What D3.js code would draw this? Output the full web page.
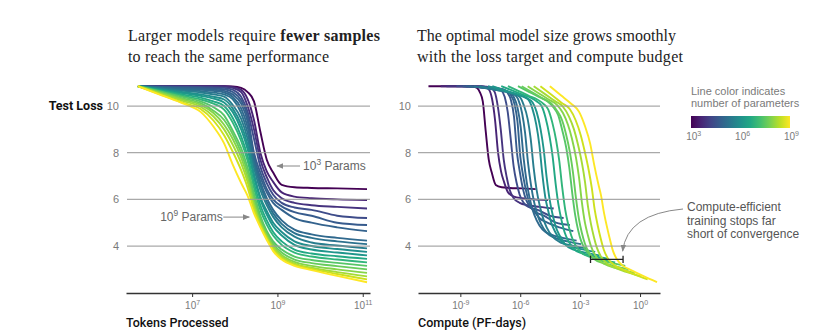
<!DOCTYPE html>
<html>
<head>
<meta charset="utf-8">
<script src="https://cdn.jsdelivr.net/npm/d3@7"></script>
<style>
  body { margin: 0; background: #fff; }
  svg { display: block; font-family: "Liberation Sans", Arial, sans-serif; }
</style>
</head>
<body>
<svg id="chart" width="839" height="334"></svg>
<script>
// tokens processed at each sampled point (shared by every run)
var tokens = [5.37e5, 2.0e6, 6.31e6, 1.58e7, 3.16e7, 5.62e7, 8.91e7, 1.41e8, 2.0e8,
              2.82e8, 3.98e8, 5.62e8, 7.94e8, 1.26e9, 2.51e9, 6.31e9, 2.51e10, 1.26e11];

// non-embedding parameters of each run, smallest first
var params = [680, 2.8e3, 5.4e3, 1.7e4, 3.5e4, 5.2e4, 7.6e4, 1.26e5, 2.4e5, 6.5e5,
              1.07e6, 3.0e6, 6.5e6, 2.07e7, 3.16e7, 6.3e7, 1.26e8, 2.75e8, 8.1e8];

// test loss of each run at the sampled token counts
var lossCurves = [
  [10.85, 10.85, 10.85, 10.85, 10.85, 10.85, 10.84, 10.78, 10.6, 10.2, 8.9, 7.7, 7.15, 6.62, 6.52, 6.49, 6.47, 6.44],
  [10.85, 10.85, 10.85, 10.85, 10.85, 10.85, 10.82, 10.7, 10.3, 9.4, 8.0, 7.2, 6.75, 6.3, 6.12, 6.05, 6.0, 5.97],
  [10.85, 10.85, 10.84, 10.84, 10.84, 10.83, 10.78, 10.6, 10.0, 9.0, 7.7, 6.95, 6.4, 6.05, 5.85, 5.75, 5.68, 5.61],
  [10.85, 10.84, 10.83, 10.82, 10.8, 10.78, 10.7, 10.4, 9.75, 8.6, 7.4, 6.7, 6.2, 5.85, 5.65, 5.55, 5.3, 5.2],
  [10.85, 10.82, 10.8, 10.78, 10.75, 10.72, 10.6, 10.25, 9.55, 8.0, 7.15, 6.45, 6.0, 5.7, 5.45, 5.3, 5.0, 4.9],
  [10.85, 10.81, 10.77, 10.74, 10.7, 10.65, 10.5, 10.1, 9.35, 7.8, 6.95, 6.3, 5.85, 5.55, 5.2, 5.0, 4.8, 4.64],
  [10.85, 10.79, 10.74, 10.7, 10.65, 10.58, 10.4, 9.9, 9.1, 7.75, 6.75, 6.05, 5.55, 5.1, 4.7, 4.5, 4.35, 4.23],
  [10.85, 10.77, 10.7, 10.64, 10.58, 10.5, 10.3, 9.7, 8.85, 7.55, 6.6, 5.9, 5.4, 4.95, 4.55, 4.35, 4.2, 4.08],
  [10.85, 10.74, 10.65, 10.58, 10.5, 10.4, 10.05, 9.45, 8.6, 7.35, 6.4, 5.75, 5.25, 4.8, 4.4, 4.15, 4.02, 3.9],
  [10.85, 10.71, 10.59, 10.5, 10.4, 10.28, 9.9, 9.2, 8.35, 7.1, 6.1, 5.5, 5.0, 4.6, 4.2, 4.0, 3.87, 3.75],
  [10.85, 10.69, 10.55, 10.44, 10.32, 10.15, 9.75, 9.0, 8.15, 6.95, 6.0, 5.35, 4.85, 4.45, 4.05, 3.85, 3.72, 3.6],
  [10.85, 10.66, 10.49, 10.36, 10.2, 10.0, 9.5, 8.7, 7.85, 6.7, 5.75, 5.1, 4.6, 4.2, 3.85, 3.68, 3.56, 3.45],
  [10.85, 10.63, 10.43, 10.28, 10.1, 9.85, 9.3, 8.5, 7.65, 6.5, 5.55, 4.92, 4.45, 4.05, 3.72, 3.55, 3.42, 3.3],
  [10.85, 10.6, 10.38, 10.2, 9.95, 9.6, 8.95, 8.2, 7.35, 6.25, 5.3, 4.65, 4.2, 3.85, 3.55, 3.4, 3.28, 3.15],
  [10.85, 10.57, 10.32, 10.12, 9.8, 9.4, 8.8, 8.0, 7.15, 6.05, 5.15, 4.55, 4.1, 3.72, 3.42, 3.27, 3.14, 3.0],
  [10.85, 10.54, 10.27, 10.05, 9.7, 9.2, 8.6, 7.8, 6.95, 5.85, 5.0, 4.45, 4.0, 3.62, 3.32, 3.15, 3.0, 2.85],
  [10.85, 10.51, 10.21, 9.97, 9.55, 9.0, 8.35, 7.55, 6.75, 5.7, 4.95, 4.38, 3.92, 3.55, 3.25, 3.07, 2.88, 2.7],
  [10.85, 10.47, 10.13, 9.87, 9.38, 8.75, 8.05, 7.25, 6.5, 5.55, 4.88, 4.32, 3.85, 3.48, 3.2, 3.02, 2.8, 2.57],
  [10.85, 10.45, 10.1, 9.75, 9.12, 8.4, 7.5, 6.7, 6.15, 5.4, 4.8, 4.26, 3.78, 3.42, 3.15, 2.97, 2.72, 2.45]
];

var lossTicks = [4, 6, 8, 10];
var tokenTicks = [1e7, 1e9, 1e11];
var computeTicks = [1e-9, 1e-6, 1e-3, 1];
var legendTicks = [1e3, 1e6, 1e9];

// training compute: 6 FLOPs per parameter per token, 1 PF-day = 8.64e19 FLOPs
var FLOPS_PER_PARAM_TOKEN = 6;
var FLOPS_PER_PF_DAY = 8.64e19;

var svg = d3.select('#chart');
var grey = '#7a7a7a';

// scales
var yLoss = d3.scaleLinear().domain([2, 11]).range([292.7, 82.7]);
var xTokens = d3.scaleLog().domain([Math.pow(10, 5.45), Math.pow(10, 11.17)]).range([126, 370]);
var xCompute = d3.scaleLog().domain([Math.pow(10, -11.12), 10]).range([418, 660]);
var color = d3.scaleSequentialLog(d3.interpolateViridis).domain(d3.extent(params));

var runs = params.map(function (n, i) {
    return {
        n: n,
        pts: tokens.map(function (t, j) { return { t: t, c: t * n * FLOPS_PER_PARAM_TOKEN / FLOPS_PER_PF_DAY, loss: lossCurves[i][j] }; })
    };
});

// superscript labels like 10^7
function powLabel(sel, exp, size) {
    sel.text('10');
    sel.append('tspan')
        .attr('dy', -size * 0.4)
        .style('font-size', (size * 0.7) + 'px')
        .text(exp);
}

function drawPanel(xScale, xKey, xTicks, gridX0, labelX, axisTitle) {
    var g = svg.append('g');

    // curves
    var line = d3.line()
        .x(function (d) { return xScale(d[xKey]); })
        .y(function (d) { return yLoss(d.loss); })
        .curve(d3.curveMonotoneX);

    g.selectAll('path.run')
        .data(runs)
        .enter().append('path')
        .attr('class', 'run')
        .attr('fill', 'none')
        .attr('stroke', function (d) { return color(d.n); })
        .attr('stroke-width', 1.9)
        .attr('stroke-linejoin', 'round')
        .attr('d', function (d) { return line(d.pts); });

    // horizontal grid
    g.selectAll('line.grid')
        .data(lossTicks)
        .enter().append('line')
        .attr('x1', gridX0)
        .attr('x2', xScale.range()[1])
        .attr('y1', function (d) { return yLoss(d); })
        .attr('y2', function (d) { return yLoss(d); })
        .attr('stroke', '#9a9a9a')
        .attr('stroke-opacity', 0.85)
        .attr('stroke-width', 1.3);

    g.selectAll('text.ylab')
        .data(lossTicks)
        .enter().append('text')
        .attr('x', labelX)
        .attr('y', function (d) { return yLoss(d) + 4; })
        .attr('text-anchor', 'end')
        .style('font-size', '11px')
        .style('fill', grey)
        .text(function (d) { return d; });

    // bottom axis
    var axis = d3.axisBottom(xScale)
        .tickValues(xTicks)
        .tickSize(4)
        .tickSizeOuter(0)
        .tickFormat('');
    var ax = g.append('g')
        .attr('transform', 'translate(0,293)')
        .call(axis);
    ax.select('.domain').attr('stroke', '#333').attr('stroke-width', 1.6);
    ax.selectAll('.tick line').attr('stroke', '#333');
    ax.selectAll('.tick').append('text')
        .attr('y', 16)
        .attr('text-anchor', 'middle')
        .style('font-size', '10px')
        .style('fill', grey)
        .each(function (d) { powLabel(d3.select(this), Math.round(Math.log10(d)), 10); });

    g.append('text')
        .attr('x', xScale.range()[0])
        .attr('y', 327)
        .style('font-family', 'Roboto, "Liberation Sans", sans-serif')
        .style('font-size', '12.5px')
        .style('font-weight', 500)
        .style('fill', '#111')
        .text(axisTitle);
}

drawPanel(xTokens, 't', tokenTicks, 127, 119, 'Tokens Processed');
drawPanel(xCompute, 'c', computeTicks, 418, 411, 'Compute (PF-days)');

svg.append('text')
    .attr('x', 103)
    .attr('y', 110)
    .attr('text-anchor', 'end')
    .style('font-family', 'Roboto, "Liberation Sans", sans-serif')
    .style('font-size', '12.5px')
    .style('font-weight', 'bold')
    .style('fill', '#111')
    .text('Test Loss');

// titles, stretched to the width of the original lines
var serif = '"Liberation Serif", "Times New Roman", serif';
function title(x, y, width) {
    return svg.append('text').attr('x', x).attr('y', y)
        .attr('textLength', width).attr('lengthAdjust', 'spacing')
        .style('font-family', serif).style('font-size', '16px').style('fill', '#222');
}
var t1 = title(128, 41, 252);
t1.append('tspan').text('Larger models require ');
t1.append('tspan').style('font-weight', 'bold').text('fewer samples');
title(128, 62, 201).text('to reach the same performance');
title(417, 41, 259).text('The optimal model size grows smoothly');
title(417, 62, 266).text('with the loss target and compute budget');

// arrow markers
var defs = svg.append('defs');
defs.append('marker')
    .attr('id', 'arrow')
    .attr('viewBox', '0 0 10 10')
    .attr('refX', 9).attr('refY', 5)
    .attr('markerWidth', 7).attr('markerHeight', 7)
    .attr('markerUnits', 'userSpaceOnUse')
    .attr('orient', 'auto')
    .append('path').attr('d', 'M0,1 L10,5 L0,9 Z').attr('fill', '#888');

// "10^3 Params" / "10^9 Params" labels on the left panel
var a1 = svg.append('text')
    .attr('x', xTokens(Math.pow(10, 9.6))).attr('y', yLoss(7.43) + 4)
    .style('font-size', '12px').style('fill', '#666');
powLabel(a1, 3, 12);
a1.append('tspan').attr('dy', 12 * 0.4).text(' Params');
svg.append('line')
    .attr('x1', xTokens(Math.pow(10, 9.53))).attr('x2', xTokens(Math.pow(10, 8.99)))
    .attr('y1', yLoss(7.43)).attr('y2', yLoss(7.43))
    .attr('stroke', '#888').attr('stroke-width', 1)
    .attr('marker-end', 'url(#arrow)');

var a2 = svg.append('text')
    .attr('x', xTokens(Math.pow(10, 6.25))).attr('y', yLoss(5.24) + 4)
    .style('font-size', '12px').style('fill', '#666');
powLabel(a2, 9, 12);
a2.append('tspan').attr('dy', 12 * 0.4).text(' Params');
svg.append('line')
    .attr('x1', xTokens(Math.pow(10, 7.73))).attr('x2', xTokens(Math.pow(10, 8.34)))
    .attr('y1', yLoss(5.24)).attr('y2', yLoss(5.24))
    .attr('stroke', '#888').attr('stroke-width', 1)
    .attr('marker-end', 'url(#arrow)');

// compute-efficient bracket
var bx0 = xCompute(Math.pow(10, -2.48)), bx1 = xCompute(Math.pow(10, -0.85)), by = yLoss(3.43);
svg.append('path')
    .attr('d', 'M' + bx0 + ',' + (by - 3.7) + 'V' + (by + 3.7) + 'M' + bx0 + ',' + by + 'H' + bx1 +
        'M' + bx1 + ',' + (by - 3.7) + 'V' + (by + 3.7))
    .attr('fill', 'none').attr('stroke', '#222').attr('stroke-width', 1.3);

var ex = xCompute(Math.pow(10, -0.87)), ey = yLoss(3.78);
svg.append('path')
    .attr('d', 'M683,209 Q627,214 ' + ex + ',' + ey)
    .attr('fill', 'none').attr('stroke', '#888').attr('stroke-width', 1)
    .attr('marker-end', 'url(#arrow)');

['Compute-efficient', 'training stops far', 'short of convergence'].forEach(function (s, i) {
    svg.append('text')
        .attr('x', 687).attr('y', 211 + i * 13.5)
        .style('font-size', '12px').style('fill', '#555')
        .text(s);
});

// colour legend
svg.append('text').attr('x', 691).attr('y', 95)
    .style('font-size', '11px').style('fill', grey).text('Line color indicates');
svg.append('text').attr('x', 691).attr('y', 107)
    .style('font-size', '11px').style('fill', grey).text('number of parameters');

var grad = defs.append('linearGradient').attr('id', 'viridis');
d3.range(0, 1.0001, 0.1).forEach(function (s) {
    grad.append('stop').attr('offset', s).attr('stop-color', d3.interpolateViridis(s));
});
var legendX = d3.scaleLog().domain(d3.extent(params)).range([691, 790]);
svg.append('rect')
    .attr('x', 691).attr('y', 116).attr('width', 99).attr('height', 12)
    .attr('fill', 'url(#viridis)');
svg.selectAll('text.leg')
    .data(legendTicks)
    .enter().append('text')
    .attr('class', 'leg')
    .attr('x', function (d) { return legendX(d); })
    .attr('y', 140)
    .attr('text-anchor', 'middle')
    .style('font-size', '10px')
    .style('fill', grey)
    .each(function (d) { powLabel(d3.select(this), Math.round(Math.log10(d)), 10); });
</script>
</body>
</html>
